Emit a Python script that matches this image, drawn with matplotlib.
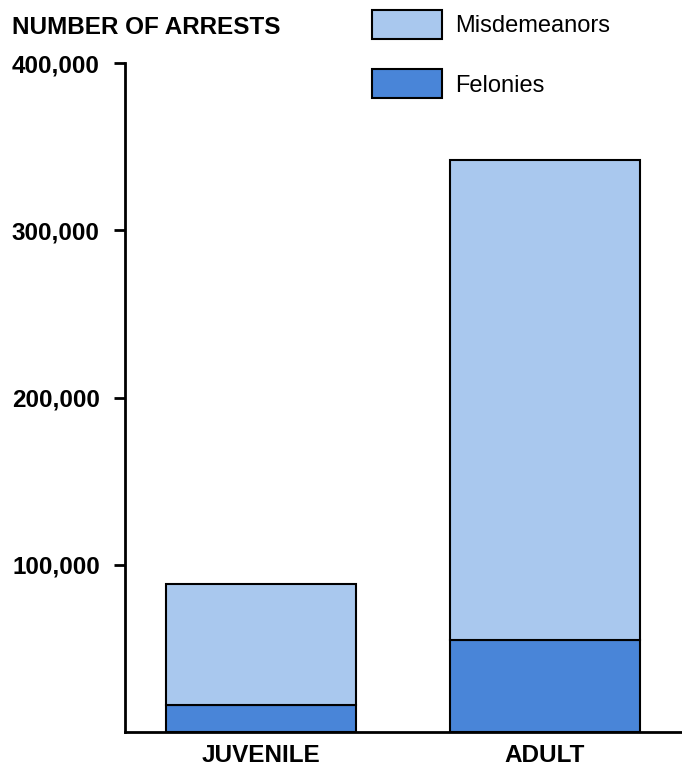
import matplotlib
matplotlib.use("Agg")
import matplotlib.pyplot as plt
from matplotlib.ticker import FuncFormatter

categories = ["JUVENILE", "ADULT"]
felonies = [16000, 55000]
misdemeanors = [72500, 287000]
yticks = [100000, 200000, 300000, 400000]

light = "#a9c8ee"
dark = "#4985d8"

plt.rcParams['font.family'] = ['Liberation Sans Narrow', 'Liberation Sans', 'DejaVu Sans']

fig = plt.figure(figsize=(6.82, 7.71), dpi=100)
ax = fig.add_axes([0.183, 0.0506, 0.817, 0.8676])

x = list(range(len(categories)))
b1 = ax.bar(x, felonies, width=0.67, color=dark, edgecolor="black", linewidth=1.5, label="Felonies")
b2 = ax.bar(x, misdemeanors, width=0.67, bottom=felonies, color=light, edgecolor="black",
            linewidth=1.5, label="Misdemeanors")

ax.set_xlim(-0.479, 1.482)
ax.set_ylim(0, 400000)
ax.set_yticks(yticks)
ax.yaxis.set_major_formatter(FuncFormatter(lambda v, p: f"{int(v):,}"))
ax.set_xticks(x)
ax.set_xticklabels(categories)
for s in ["top", "right"]:
    ax.spines[s].set_visible(False)
ax.spines["left"].set_linewidth(2)
ax.spines["bottom"].set_linewidth(2)
ax.tick_params(axis="y", direction="out", length=8, width=2, pad=10, labelsize=17.5)
ax.tick_params(axis="x", length=0, pad=9, labelsize=17.5)
for lab in ax.get_yticklabels() + ax.get_xticklabels():
    lab.set_fontweight("bold")

fig.text(12/682, 1 - 27/771, "NUMBER OF ARRESTS", fontsize=17.5, fontweight="bold",
         ha="left", va="center")

fig.legend(handles=[b2, b1], labels=["Misdemeanors", "Felonies"], loc="upper left",
           bbox_to_anchor=(372/682, 1 - 10/771), frameon=False, fontsize=17,
           handlelength=2.97, handleheight=1.5, labelspacing=1.3, handletextpad=0.55,
           borderpad=0, borderaxespad=0)

fig.savefig("out.png", dpi=100)
